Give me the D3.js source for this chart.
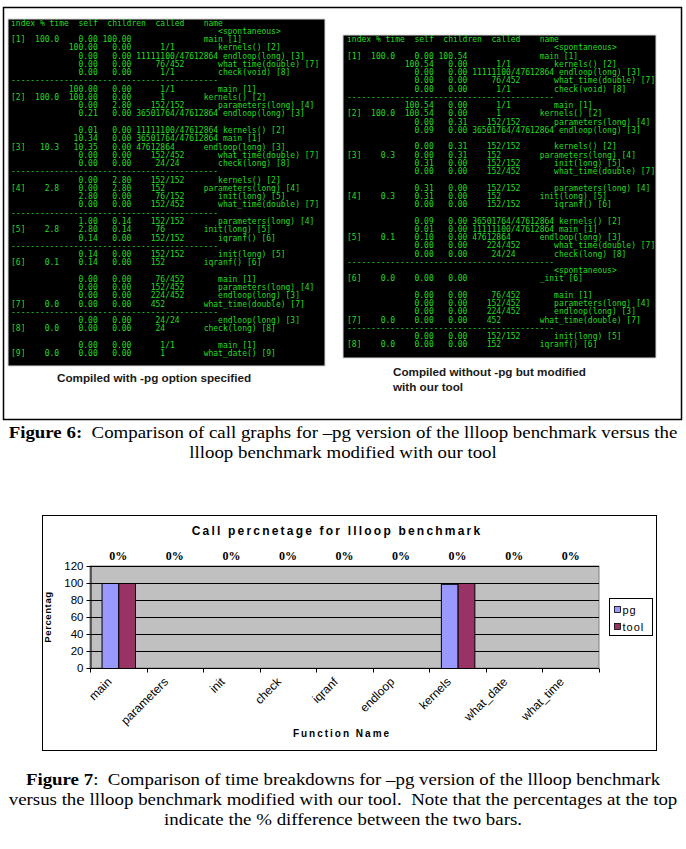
<!DOCTYPE html>
<html>
<head>
<meta charset="utf-8">
<script src="https://cdn.jsdelivr.net/npm/d3@7"></script>
<style>
  body { margin: 0; background: #fff; }
  svg { display: block; }
  .term text { font-family: "DejaVu Sans Mono", monospace; font-size: 8px; fill: #22dd22; white-space: pre; }
</style>
</head>
<body>
<div id="page"></div>
<script>
// ---- chart data ----
const functions = ["main", "parameters", "init", "check", "iqranf", "endloop", "kernels", "what_date", "what_time"];
const seriesNames = ["pg", "tool"];
const pgValues = [100, 0, 0, 0, 0, 0, 99, 0, 0];
const toolValues = [100, 0, 0, 0, 0, 0, 100, 0, 0];
const diffValues = [0, 0, 0, 0, 0, 0, 0, 0, 0];
const yTicks = [0, 20, 40, 60, 80, 100, 120];
const seriesColors = ["#9999ff", "#993366"];

// ---- gprof call graph text (screenshots in figure 6) ----
// [index, %time, self, children, called, name, level]
const pgRows = [
  "header",
  ["", "", "", "", "", "<spontaneous>", 1],
  ["[1]", "100.0", "0.00", "100.00", "", "main [1]", 0],
  ["", "", "100.00", "0.00", "1/1", "kernels() [2]", 1],
  ["", "", "0.00", "0.00", "11111100/47612864", "endloop(long) [3]", 1],
  ["", "", "0.00", "0.00", "76/452", "what_time(double) [7]", 1],
  ["", "", "0.00", "0.00", "1/1", "check(void) [8]", 1],
  "dash",
  ["", "", "100.00", "0.00", "1/1", "main [1]", 1],
  ["[2]", "100.0", "100.00", "0.00", "1", "kernels() [2]", 0],
  ["", "", "0.00", "2.80", "152/152", "parameters(long) [4]", 1],
  ["", "", "0.21", "0.00", "36501764/47612864", "endloop(long) [3]", 1],
  "blank",
  ["", "", "0.01", "0.00", "11111100/47612864", "kernels() [2]", 1],
  ["", "", "10.34", "0.00", "36501764/47612864", "main [1]", 1],
  ["[3]", "10.3", "10.35", "0.00", "47612864", "endloop(long) [3]", 0],
  ["", "", "0.00", "0.00", "152/452", "what_time(double) [7]", 1],
  ["", "", "0.00", "0.00", "24/24", "check(long) [8]", 1],
  "dash",
  ["", "", "0.00", "2.80", "152/152", "kernels() [2]", 1],
  ["[4]", "2.8", "0.00", "2.80", "152", "parameters(long) [4]", 0],
  ["", "", "2.80", "0.00", "76/152", "init(long) [5]", 1],
  ["", "", "0.00", "0.00", "152/452", "what_time(double) [7]", 1],
  "dash",
  ["", "", "1.00", "0.14", "152/152", "parameters(long) [4]", 1],
  ["[5]", "2.8", "2.80", "0.14", "76", "init(long) [5]", 0],
  ["", "", "0.14", "0.00", "152/152", "iqranf() [6]", 1],
  "dash",
  ["", "", "0.14", "0.00", "152/152", "init(long) [5]", 1],
  ["[6]", "0.1", "0.14", "0.00", "152", "iqranf() [6]", 0],
  "blank",
  ["", "", "0.00", "0.00", "76/452", "main [1]", 1],
  ["", "", "0.00", "0.00", "152/452", "parameters(long) [4]", 1],
  ["", "", "0.00", "0.00", "224/452", "endloop(long) [3]", 1],
  ["[7]", "0.0", "0.00", "0.00", "452", "what_time(double) [7]", 0],
  "dash",
  ["", "", "0.00", "0.00", "24/24", "endloop(long) [3]", 1],
  ["[8]", "0.0", "0.00", "0.00", "24", "check(long) [8]", 0],
  "blank",
  ["", "", "0.00", "0.00", "1/1", "main [1]", 1],
  ["[9]", "0.0", "0.00", "0.00", "1", "what_date() [9]", 0]
];

const toolRows = [
  "header",
  ["", "", "", "", "", "<spontaneous>", 1],
  ["[1]", "100.0", "0.00", "100.54", "", "main [1]", 0],
  ["", "", "100.54", "0.00", "1/1", "kernels() [2]", 1],
  ["", "", "0.00", "0.00", "11111100/47612864", "endloop(long) [3]", 1],
  ["", "", "0.00", "0.00", "76/452", "what_time(double) [7]", 1],
  ["", "", "0.00", "0.00", "1/1", "check(void) [8]", 1],
  "dash",
  ["", "", "100.54", "0.00", "1/1", "main [1]", 1],
  ["[2]", "100.0", "100.54", "0.00", "1", "kernels() [2]", 0],
  ["", "", "0.00", "0.31", "152/152", "parameters(long) [4]", 1],
  ["", "", "0.09", "0.00", "36501764/47612864", "endloop(long) [3]", 1],
  "blank",
  ["", "", "0.00", "0.31", "152/152", "kernels() [2]", 1],
  ["[3]", "0.3", "0.00", "0.31", "152", "parameters(long) [4]", 0],
  ["", "", "0.31", "0.00", "152/152", "init(long) [5]", 1],
  ["", "", "0.00", "0.00", "152/452", "what_time(double) [7]", 1],
  "blank",
  ["", "", "0.31", "0.00", "152/152", "parameters(long) [4]", 1],
  ["[4]", "0.3", "0.31", "0.00", "152", "init(long) [5]", 0],
  ["", "", "0.00", "0.00", "152/152", "iqranf() [6]", 1],
  "blank",
  ["", "", "0.09", "0.00", "36501764/47612864", "kernels() [2]", 1],
  ["", "", "0.01", "0.00", "11111100/47612864", "main [1]", 1],
  ["[5]", "0.1", "0.10", "0.00", "47612864", "endloop(long) [3]", 0],
  ["", "", "0.00", "0.00", "224/452", "what_time(double) [7]", 1],
  ["", "", "0.00", "0.00", "24/24", "check(long) [8]", 1],
  "dash",
  ["", "", "", "", "", "<spontaneous>", 1],
  ["[6]", "0.0", "0.00", "0.00", "", "_init [6]", 0],
  "blank",
  ["", "", "0.00", "0.00", "76/452", "main [1]", 1],
  ["", "", "0.00", "0.00", "152/452", "parameters(long) [4]", 1],
  ["", "", "0.00", "0.00", "224/452", "endloop(long) [3]", 1],
  ["[7]", "0.0", "0.00", "0.00", "452", "what_time(double) [7]", 0],
  "dash",
  ["", "", "0.00", "0.00", "152/152", "init(long) [5]", 1],
  ["[8]", "0.0", "0.00", "0.00", "152", "iqranf() [6]", 0]
];

const W = 686, H = 849;

const svg = d3.select("#page").append("svg")
    .attr("width", W)
    .attr("height", H)
    .attr("viewBox", `0 0 ${W} ${H}`);

svg.append("rect").attr("width", W).attr("height", H).attr("fill", "#fff");

// ---------- Figure 6 ----------
svg.append("rect")
    .attr("x", 3.5).attr("y", 7.5)
    .attr("width", 678).attr("height", 412)
    .attr("fill", "none").attr("stroke", "#000").attr("stroke-width", 1.5);

function put(s, str, col) {
    while (s.length < col) s += " ";
    return s + str;
}
function putRight(s, str, endCol) {
    return put(s, str, Math.max(s.length + 1, endCol - str.length));
}

function formatRow(r) {
    if (r === "header") {
        let s = put("", "index", 0);
        s = put(s, "% time", 6);
        s = put(s, "self", 14);
        s = put(s, "children", 20);
        s = put(s, "called", 30);
        return put(s, "name", 40);
    }
    if (r === "dash") return "-".repeat(43);
    if (r === "blank") return "";
    const [idx, pct, self, child, called, name, level] = r;
    let s = idx;
    if (pct) s = putRight(s, pct, 10);
    if (self) s = putRight(s, self, 18);
    if (child) s = putRight(s, child, 25);
    if (called) {
        const slash = called.indexOf("/");
        const num = slash < 0 ? called : called.slice(0, slash);
        s = putRight(s, num, 32);
        s += slash < 0 ? "" : called.slice(slash);
    }
    return put(s + " ", name, level === 0 ? 40 : 43);
}

let termCount = 0;
function drawTerminal(rows, box, textX, firstY, pitch) {
    const id = "termclip" + (termCount++);
    svg.append("clipPath").attr("id", id)
        .append("rect")
        .attr("x", box.x).attr("y", box.y)
        .attr("width", box.w).attr("height", box.h);
    const g = svg.append("g").attr("class", "term");
    g.append("rect")
        .attr("x", box.x).attr("y", box.y)
        .attr("width", box.w).attr("height", box.h)
        .attr("fill", "#000")
        .attr("stroke", "#d8d8d8").attr("stroke-width", 1);
    g.append("g")
        .attr("clip-path", `url(#${id})`)
        .selectAll("text.row")
        .data(rows)
        .enter()
        .append("text")
        .attr("class", "row")
        .attr("xml:space", "preserve")
        .attr("x", textX)
        .attr("y", (d, i) => firstY + i * pitch)
        .text(d => formatRow(d));
}

drawTerminal(pgRows, { x: 8, y: 19, w: 317, h: 347 }, 11, 25.5, 8.27);
drawTerminal(toolRows, { x: 343, y: 35, w: 313, h: 323 }, 347, 42, 8.25);

const capStyle = sel => sel
    .attr("font-family", "Liberation Sans, Arial, sans-serif")
    .attr("font-weight", "bold")
    .attr("font-size", 11.7)
    .attr("fill", "#1a1a1a");

svg.append("text").call(capStyle)
    .attr("x", 57).attr("y", 382)
    .text("Compiled with -pg option specified");
svg.append("text").call(capStyle)
    .attr("x", 393).attr("y", 376)
    .text("Compiled without -pg but modified");
svg.append("text").call(capStyle)
    .attr("x", 393).attr("y", 391)
    .text("with our tool");

// captions: the scanned page is stretched horizontally, widest line spans ~669px
function caption(lines, y0, lineH, targetW) {
    const g = svg.append("g");
    const texts = lines.map((ln, i) => {
        const t = g.append("text")
            .attr("x", W / 2).attr("y", y0 + i * lineH)
            .attr("font-family", "Liberation Serif, Times New Roman, serif")
            .attr("font-size", 17)
            .attr("fill", "#000")
            .attr("text-anchor", "middle")
            .attr("xml:space", "preserve");
        if (ln.bold) t.append("tspan").attr("font-weight", "bold").text(ln.bold);
        t.append("tspan").text(ln.text);
        return t;
    });
    const maxLen = d3.max(texts, t => t.node().getComputedTextLength());
    const sx = targetW / maxLen;
    g.attr("transform", `translate(${W / 2},0) scale(${sx},1) translate(${-W / 2},0)`);
}

caption([
    { bold: "Figure 6:", text: "  Comparison of call graphs for \u2013pg version of the llloop benchmark versus the" },
    { text: "llloop benchmark modified with our tool" }
], 438, 20, 669);

// ---------- Figure 7 chart ----------
const frame = { x: 42, y: 515, w: 614, h: 235 };
svg.append("rect")
    .attr("x", frame.x + 0.5).attr("y", frame.y + 0.5)
    .attr("width", frame.w).attr("height", frame.h)
    .attr("fill", "#fff").attr("stroke", "#000").attr("stroke-width", 1);

const plot = { left: 90, right: 599, top: 566, bottom: 668 };

const x = d3.scaleBand()
    .domain(functions)
    .range([plot.left, plot.right]);

const xInner = d3.scaleBand()
    .domain(seriesNames)
    .range([0, x.bandwidth()])
    .paddingOuter(0.69);

const y = d3.scaleLinear()
    .domain([0, 120])
    .range([plot.bottom, plot.top]);

const color = d3.scaleOrdinal().domain(seriesNames).range(seriesColors);

const chart = svg.append("g").attr("class", "chart");

chart.append("rect")
    .attr("x", plot.left).attr("y", plot.top)
    .attr("width", plot.right - plot.left).attr("height", plot.bottom - plot.top)
    .attr("fill", "#c0c0c0")
    .attr("stroke", "#808080");

chart.selectAll("line.grid")
    .data(yTicks.filter(t => t > 0))
    .enter()
    .append("line")
    .attr("class", "grid")
    .attr("x1", plot.left).attr("x2", plot.right)
    .attr("y1", d => Math.round(y(d)) + 0.5)
    .attr("y2", d => Math.round(y(d)) + 0.5)
    .attr("stroke", "#000")
    .attr("stroke-width", 1);

// bars
const barData = [];
functions.forEach((f, i) => {
    barData.push({ fn: f, series: "pg", value: pgValues[i] });
    barData.push({ fn: f, series: "tool", value: toolValues[i] });
});

chart.selectAll("rect.bar")
    .data(barData.filter(d => d.value > 0))
    .enter()
    .append("rect")
    .attr("class", "bar")
    .attr("x", d => x(d.fn) + xInner(d.series) + 0.5)
    .attr("y", d => y(d.value) + 0.5)
    .attr("width", xInner.bandwidth())
    .attr("height", d => y(0) - y(d.value))
    .attr("fill", d => color(d.series))
    .attr("stroke", "#000")
    .attr("stroke-width", 1);

// y axis
const yAxis = chart.append("g")
    .attr("transform", `translate(${plot.left + 0.5},0)`)
    .call(d3.axisLeft(y).tickValues(yTicks).tickSize(4).tickSizeOuter(0).tickPadding(3));
yAxis.select(".domain").attr("stroke", "#000");
yAxis.selectAll(".tick line").attr("stroke", "#000");
yAxis.selectAll(".tick text")
    .attr("font-family", "Liberation Sans, Arial, sans-serif")
    .attr("font-size", 11.5)
    .attr("fill", "#000");

// x axis: ticks at category boundaries
const xAxis = chart.append("g")
    .attr("transform", `translate(0,${plot.bottom + 0.5})`);
xAxis.append("line")
    .attr("x1", plot.left).attr("x2", plot.right)
    .attr("stroke", "#000");
xAxis.selectAll("line.tick")
    .data(functions.concat(["end"]))
    .enter()
    .append("line")
    .attr("class", "tick")
    .attr("x1", (d, i) => Math.round(plot.left + i * x.step()) + 0.5)
    .attr("x2", (d, i) => Math.round(plot.left + i * x.step()) + 0.5)
    .attr("y1", 0).attr("y2", 4)
    .attr("stroke", "#000");
xAxis.selectAll("text")
    .data(functions)
    .enter()
    .append("text")
    .attr("transform", d => `translate(${x(d) + x.bandwidth() / 2 - 12},${8}) rotate(-45)`)
    .attr("text-anchor", "end")
    .attr("dy", "0.72em")
    .attr("font-family", "Liberation Sans, Arial, sans-serif")
    .attr("font-size", 12)
    .attr("fill", "#000")
    .text(d => d);

// difference labels
chart.selectAll("text.diff")
    .data(functions)
    .enter()
    .append("text")
    .attr("class", "diff")
    .attr("x", d => x(d) + x.bandwidth() / 2)
    .attr("y", 560)
    .attr("text-anchor", "middle")
    .attr("font-family", "Liberation Serif, Times New Roman, serif")
    .attr("font-weight", "bold")
    .attr("font-size", 12)
    .text((d, i) => diffValues[i] + "%");

// title
chart.append("text")
    .attr("x", 337).attr("y", 535)
    .attr("text-anchor", "middle")
    .attr("font-family", "Liberation Sans, Arial, sans-serif")
    .attr("font-weight", "bold")
    .attr("font-size", 12)
    .attr("letter-spacing", 2.2)
    .text("Call percnetage for llloop benchmark");

// axis titles
chart.append("text")
    .attr("transform", `translate(51,${(plot.top + plot.bottom) / 2}) rotate(-90)`)
    .attr("text-anchor", "middle")
    .attr("font-family", "Liberation Sans, Arial, sans-serif")
    .attr("font-weight", "bold")
    .attr("font-size", 9.5)
    .attr("letter-spacing", 0.6)
    .text("Percentag");

chart.append("text")
    .attr("x", 342).attr("y", 737)
    .attr("text-anchor", "middle")
    .attr("font-family", "Liberation Sans, Arial, sans-serif")
    .attr("font-weight", "bold")
    .attr("font-size", 10)
    .attr("letter-spacing", 2)
    .text("Function Name");

// legend
const legend = chart.append("g").attr("transform", "translate(609.5,598.5)");
legend.append("rect")
    .attr("width", 43).attr("height", 37)
    .attr("fill", "#fff").attr("stroke", "#000");
const li = legend.selectAll("g.item")
    .data(seriesNames)
    .enter()
    .append("g")
    .attr("class", "item")
    .attr("transform", (d, i) => `translate(5,${8 + i * 17})`);
li.append("rect")
    .attr("width", 6).attr("height", 6)
    .attr("fill", d => color(d))
    .attr("stroke", "#000")
    .attr("stroke-width", 0.8);
li.append("text")
    .attr("x", 8).attr("y", 7)
    .attr("font-family", "Liberation Sans, Arial, sans-serif")
    .attr("font-size", 11)
    .attr("letter-spacing", 1)
    .text(d => d);

caption([
    { bold: "Figure 7", text: ":  Comparison of time breakdowns for \u2013pg version of the llloop benchmark" },
    { text: "versus the llloop benchmark modified with our tool.  Note that the percentages at the top" },
    { text: "indicate the % difference between the two bars." }
], 785, 20, 669);
</script>
</body>
</html>
